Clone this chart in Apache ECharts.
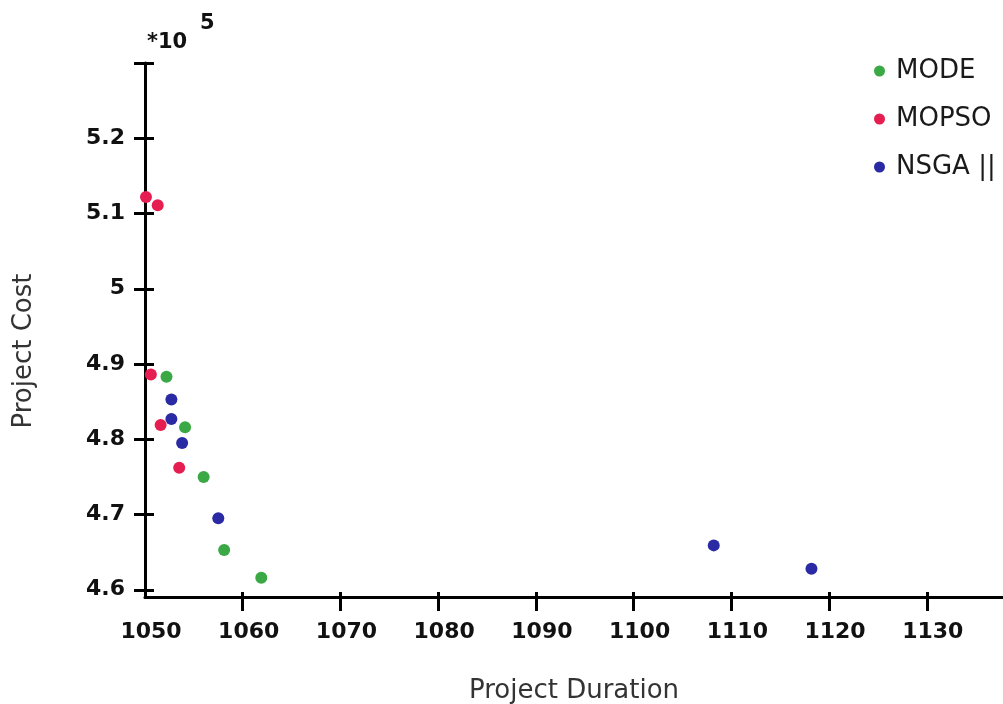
<!DOCTYPE html>
<html>
<head>
<meta charset="utf-8">
<script src="https://cdn.jsdelivr.net/npm/echarts@6/dist/echarts.min.js"></script>
<style>
html, body { margin: 0; padding: 0; background: #fff; }
#chart { width: 1003px; height: 704px; }
</style>
</head>
<body>
<div id="chart"></div>
<script>
// project duration / project cost (cost in *10^5)
var modeDuration = [1052.2, 1054.1, 1056.0, 1058.1, 1061.9];
var modeCost = [4.883, 4.816, 4.750, 4.653, 4.616];

var mopsoDuration = [1050.1, 1051.3, 1050.6, 1051.6, 1053.5];
var mopsoCost = [5.122, 5.111, 4.886, 4.819, 4.762];

var nsgaDuration = [1052.7, 1052.7, 1053.8, 1057.5, 1108.2, 1118.2];
var nsgaCost = [4.853, 4.827, 4.795, 4.695, 4.659, 4.628];

// tick labels
var xTickValues = [1060, 1070, 1080, 1090, 1100, 1110, 1120, 1130];
var xLabelValues = [1050, 1060, 1070, 1080, 1090, 1100, 1110, 1120, 1130];
var yTickValues = [4.6, 4.7, 4.8, 4.9, 5, 5.1, 5.2, 5.3];
var yLabelValues = [4.6, 4.7, 4.8, 4.9, 5, 5.1, 5.2];

function pairs(xs, ys) {
	var out = [];
	for (var i = 0; i < xs.length; i++) {
		out.push([xs[i], ys[i]]);
	}
	return out;
}

var font = '"DejaVu Sans", Verdana, sans-serif';
var axisColor = '#000';

var myChart = echarts.init(document.getElementById('chart'));
myChart.setOption({
	animation: false,
	textStyle: { fontFamily: font },
	grid: { left: 145, right: 0, top: 63, bottom: 107, containLabel: false, outerBoundsMode: 'none' },
	legend: {
		orient: 'vertical',
		left: 869,
		top: 53,
		itemGap: 22,
		itemWidth: 11,
		itemHeight: 11,
		icon: 'circle',
		textStyle: { fontSize: 26, color: '#1a1a1a', fontFamily: font, padding: [0, 0, 0, 6] },
		data: ['MODE', 'MOPSO', 'NSGA ||']
	},
	graphic: [{
		type: 'text',
		style: { text: '*10', x: 147, y: 43, font: 'bold 21px "DejaVu Sans"', fill: '#111', verticalAlign: 'middle' }
	}, {
		type: 'text',
		style: { text: '5', x: 200, y: 24, font: 'bold 21px "DejaVu Sans"', fill: '#111', verticalAlign: 'middle' }
	}],
	xAxis: [{
		type: 'value',
		min: 1050,
		max: 1137.8,
		name: 'Project Duration',
		nameLocation: 'middle',
		nameGap: 81,
		nameTextStyle: { fontSize: 26, color: '#333', fontFamily: font },
		axisLine: { lineStyle: { color: axisColor, width: 3 } },
		axisTick: { length: 14, lineStyle: { color: axisColor, width: 3 }, customValues: xTickValues },
		axisLabel: {
			fontSize: 22, fontWeight: 'bold', color: '#111', margin: 24, padding: [0, 0, 0, 12],
			customValues: xLabelValues,
			formatter: function(v) { return String(v); }
		},
		splitLine: { show: false }
	}, {
		type: 'value',
		position: 'bottom',
		min: 1050,
		max: 1137.8,
		axisLine: { show: false },
		axisTick: { inside: true, length: 5, lineStyle: { color: axisColor, width: 3 }, customValues: xTickValues },
		axisLabel: { show: false },
		splitLine: { show: false }
	}],
	yAxis: [{
		type: 'value',
		min: 4.5904,
		max: 5.3,
		name: 'Project Cost',
		nameLocation: 'middle',
		nameGap: 108,
		nameRotate: 90,
		nameTextStyle: { fontSize: 26, color: '#333', fontFamily: font, padding: [0, 42, 0, 0] },
		axisLine: { lineStyle: { color: axisColor, width: 3 } },
		axisTick: { length: 11, lineStyle: { color: axisColor, width: 3 }, customValues: yTickValues },
		axisLabel: {
			fontSize: 22, fontWeight: 'bold', color: '#111', margin: 20,
			customValues: yLabelValues,
			formatter: function(v) { return String(v); }
		},
		splitLine: { show: false }
	}, {
		type: 'value',
		position: 'left',
		min: 4.5904,
		max: 5.3,
		axisLine: { show: false },
		axisTick: { inside: true, length: 9, lineStyle: { color: axisColor, width: 3 }, customValues: yTickValues },
		axisLabel: { show: false },
		splitLine: { show: false }
	}],
	series: [{
		name: 'MODE',
		type: 'scatter',
		symbolSize: 12,
		itemStyle: { color: '#3aa845', opacity: 1 },
		data: pairs(modeDuration, modeCost)
	}, {
		name: 'MOPSO',
		type: 'scatter',
		symbolSize: 12,
		itemStyle: { color: '#e51d50', opacity: 1 },
		data: pairs(mopsoDuration, mopsoCost)
	}, {
		name: 'NSGA ||',
		type: 'scatter',
		symbolSize: 12,
		itemStyle: { color: '#2a2aa5', opacity: 1 },
		data: pairs(nsgaDuration, nsgaCost)
	}]
});
</script>
</body>
</html>
